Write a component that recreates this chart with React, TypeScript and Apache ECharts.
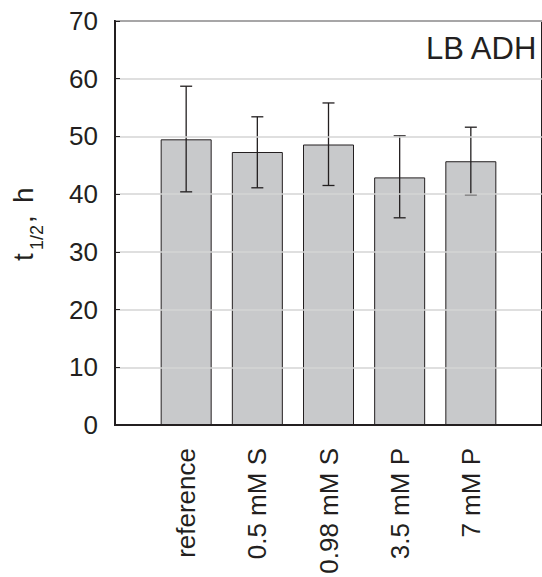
import React, { useEffect, useRef } from "react";
import * as echarts from "echarts";

const categories = ["reference", "0.5 mM S", "0.98 mM S", "3.5 mM P", "7 mM P"];
const halfLife = [49.5, 47.3, 48.6, 42.9, 45.7];
const errLow = [40.4, 41.1, 41.5, 35.9, 39.9];
const errHigh = [58.7, 53.4, 55.8, 50.1, 51.6];
const yTicks = [0, 10, 20, 30, 40, 50, 60, 70];
const panelLabel = "LB ADH";

const INK = "#231f20";
const FONT = "'Liberation Sans', Arial, Helvetica, sans-serif";

export default function App() {
  const ref = useRef<HTMLDivElement>(null);
  useEffect(() => {
    if (!ref.current) return;
    const chart = echarts.init(ref.current, null, { renderer: "svg" });
    const axisCats = ["", ...categories, ""];
    const barData = [null, ...halfLife, null];
    const errData = categories.map((_, i) => [i + 1, errLow[i], errHigh[i]]);
    chart.setOption({
      animation: false,
      grid: {
        left: 115,
        right: -7,
        top: 21,
        bottom: 152,
        show: true,
        borderColor: INK,
        borderWidth: 2,
        backgroundColor: "transparent",
      },
      xAxis: {
        type: "category",
        data: axisCats,
        boundaryGap: false,
        axisLine: { show: true, lineStyle: { color: INK, width: 2 } },
        axisTick: { show: false },
        splitLine: { show: false },
        axisLabel: {
          rotate: 90,
          interval: 0,
          margin: 23,
          fontSize: 26,
          fontFamily: FONT,
          color: INK,
        },
        z: 10,
      },
      yAxis: {
        type: "value",
        min: yTicks[0],
        max: yTicks[yTicks.length - 1],
        interval: 10,
        axisLine: { show: true, lineStyle: { color: INK, width: 2 } },
        axisTick: { show: true, inside: true, length: 5, lineStyle: { color: INK, width: 1 } },
        splitLine: { show: true, lineStyle: { color: "#d4d4d4", width: 1.5 } },
        axisLabel: { margin: 17, fontSize: 26, fontFamily: FONT, color: INK },
        z: 10,
      },
      series: [
        {
          type: "bar",
          data: barData,
          barWidth: 51,
          itemStyle: { color: "#c8c9cb", borderColor: INK, borderWidth: 1 },
          z: 2,
        },
        {
          type: "custom",
          data: errData,
          z: 5,
          renderItem: (params: any, api: any) => {
            const x = api.value(0);
            const lo = api.coord([x, api.value(1)]);
            const hi = api.coord([x, api.value(2)]);
            const cap = 6;
            const style = { stroke: INK, lineWidth: 1.3 };
            return {
              type: "group",
              children: [
                { type: "line", shape: { x1: lo[0], y1: lo[1], x2: hi[0], y2: hi[1] }, style },
                { type: "line", shape: { x1: hi[0] - cap, y1: hi[1], x2: hi[0] + cap, y2: hi[1] }, style },
                { type: "line", shape: { x1: lo[0] - cap, y1: lo[1], x2: lo[0] + cap, y2: lo[1] }, style },
              ],
            };
          },
        },
      ],
      graphic: [
        {
          type: "text",
          right: 4,
          top: 33,
          style: { text: panelLabel, fontSize: 31, fontFamily: FONT, fill: INK },
        },
        {
          type: "group",
          x: 23,
          y: 261,
          rotation: Math.PI / 2,
          children: [
            { type: "text", x: 0, y: 0, style: { text: "t", fontSize: 28, fontFamily: FONT, fill: INK, verticalAlign: "middle", align: "left" } },
            { type: "text", x: 11, y: 14, style: { text: "1/2", fontSize: 18, fontFamily: FONT, fill: INK, verticalAlign: "middle", align: "left" } },
            { type: "text", x: 38, y: 0, style: { text: ",", fontSize: 28, fontFamily: FONT, fill: INK, verticalAlign: "middle", align: "left" } },
            { type: "text", x: 58, y: 0, style: { text: "h", fontSize: 28, fontFamily: FONT, fill: INK, verticalAlign: "middle", align: "left" } },
          ],
        },
      ],
    });
    return () => chart.dispose();
  }, []);
  return (
    <div
      ref={ref}
      style={{ position: "absolute", left: 0, top: 0, width: 542, height: 577, background: "#fff" }}
    />
  );
}
